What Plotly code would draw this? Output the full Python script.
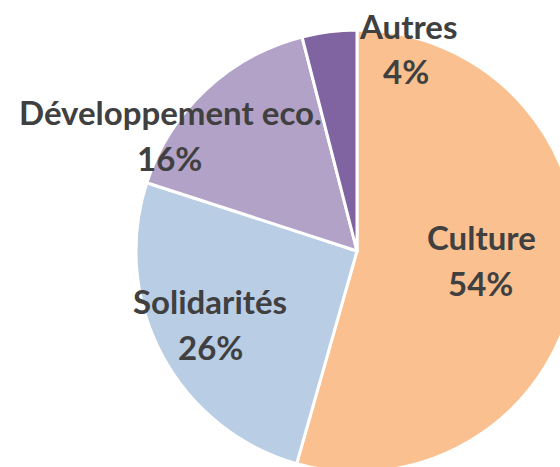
import plotly.graph_objects as go

categories = ["Culture", "Solidarités", "Développement eco.", "Autres"]
values = [54.4, 25.6, 16.0, 4.0]
pct_labels = ["54%", "26%", "16%", "4%"]
colors = ["#FAC090", "#B9CDE5", "#B3A2C7", "#8064A2"]

# layout geometry (pixels)
W, H = 600, 500
CX, CY, R = 357, 251, 221
L, T = CX - R, CY - R
SIDE = 2 * R

# label centres in pixels (name line, percent line)
label_pos = {
    "Culture": ((481, 237), (480, 283)),
    "Solidarités": ((210, 301), (210, 347)),
    "Développement eco.": ((170, 112), (169, 158)),
    "Autres": ((408, 26), (406, 71)),
}

fig = go.Figure(go.Pie(
    labels=categories,
    values=values,
    sort=False,
    direction="clockwise",
    rotation=0,
    marker=dict(colors=colors, line=dict(color="white", width=3)),
    textinfo="none",
    hoverinfo="label+percent",
    showlegend=False,
))

def px2paper(x, y):
    return (x - L) / SIDE, 1 - (y - T) / SIDE

font = dict(family="Lato", size=33, color="#404040", weight=700)
for cat, pct in zip(categories, pct_labels):
    (nx, ny), (qx, qy) = label_pos[cat]
    for txt, (x, y) in ((cat, (nx, ny)), (pct, (qx, qy))):
        xp, yp = px2paper(x, y)
        fig.add_annotation(x=xp, y=yp, xref="paper", yref="paper", text=txt,
                           showarrow=False, xanchor="center", yanchor="middle",
                           font=font)

fig.update_layout(
    width=W, height=H,
    margin=dict(l=L, t=T, r=W - L - SIDE, b=H - T - SIDE, pad=0),
    paper_bgcolor="white", plot_bgcolor="white",
)

post = ("document.documentElement.style.overflow='hidden';"
        "document.body.style.overflow='hidden';"
        "document.body.style.margin='0';")
fig.write_html("out.html", post_script=post, config={"displayModeBar": False})
